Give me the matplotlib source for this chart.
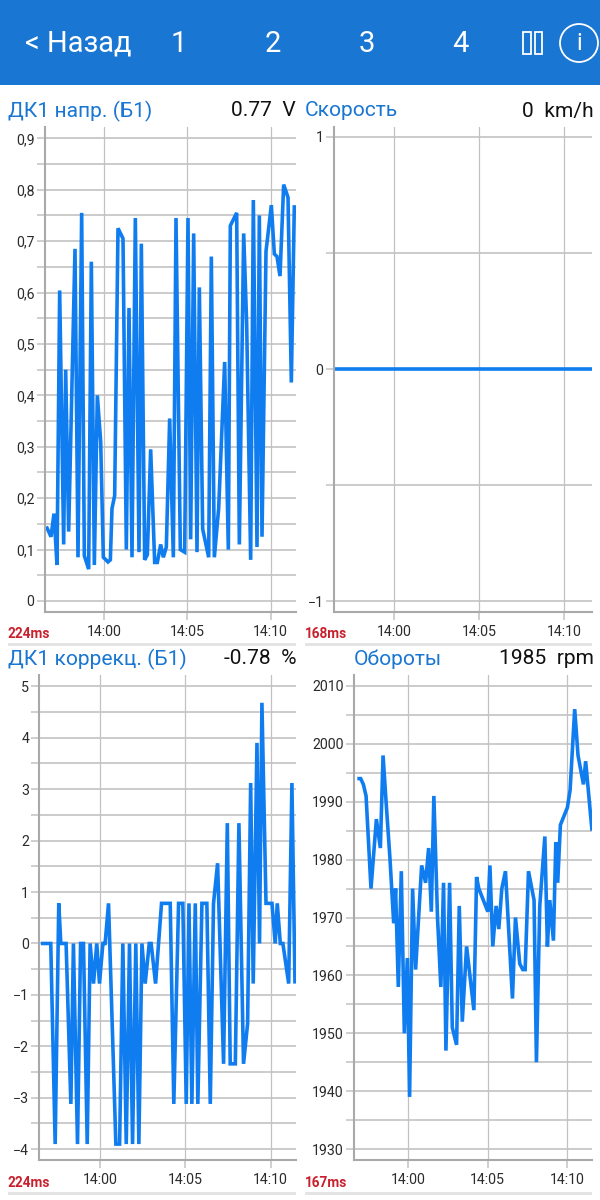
import matplotlib
matplotlib.use("Agg")
import matplotlib.pyplot as plt
from matplotlib.patches import Rectangle, Circle

plt.rcParams['font.family'] = ['Roboto', 'DejaVu Sans']

# Times are minutes relative to 14:00
t_voltage = [-3.46,-3.18,-3.0,-2.82,-2.66,-2.42,-2.30,-2.12,-1.74,-1.56,-1.34,-1.18,-.92,-.76,-.58,-.40,-.20,-.04,.24,.38,.48,.64,.84,1.14,1.34,1.5,1.68,1.88,2.1,2.24,2.44,2.6,2.8,3.04,3.2,3.4,3.56,3.74,3.94,4.16,4.32,4.58,4.84,5.04,5.2,5.38,5.58,5.72,5.92,6.28,6.44,6.62,6.88,7.24,7.46,7.58,7.96,8.12,8.38,8.56,8.8,8.96,9.18,9.32,9.48,9.72,10.04,10.22,10.38,10.56,10.78,11.04,11.24,11.42]
v_voltage = [.145,.125,.17,.07,.604,.11,.45,.135,.685,.085,.755,.088,.062,.66,.07,.40,.31,.085,.076,.08,.18,.205,.725,.705,.10,.57,.085,.745,.095,.695,.08,.09,.295,.075,.075,.11,.085,.105,.355,.085,.745,.10,.095,.745,.12,.715,.095,.61,.14,.085,.67,.085,.18,.465,.10,.73,.755,.11,.715,.54,.08,.78,.105,.75,.125,.68,.77,.675,.67,.632,.81,.785,.425,.77]

t_speed = [-3.5, 0.0, 5.0, 10.0, 11.65]
v_speed = [0, 0, 0, 0, 0]

t_trim = [-3.48,-2.90,-2.64,-2.43,-2.31,-2.00,-1.72,-1.57,-1.33,-1.15,-.98,-.76,-.59,-.39,-.20,-.04,.16,.29,.49,.92,1.14,1.33,1.53,1.72,1.90,2.09,2.27,2.45,2.64,2.88,2.99,3.25,3.60,4.11,4.32,4.60,4.85,5.05,5.21,5.38,5.58,5.73,5.97,6.26,6.46,6.65,6.89,7.24,7.46,7.63,7.93,8.14,8.41,8.65,8.83,8.98,9.20,9.35,9.49,9.73,10.08,10.27,10.39,10.57,10.72,11.06,11.25,11.43]
v_trim = [0,0,-3.9,.78,0,0,-3.12,0,-3.9,0,0,-3.9,0,-.78,0,-.78,0,0,.78,-3.9,-3.9,0,-3.9,0,-3.9,0,-3.9,0,-.78,0,0,-.78,.78,.78,-3.12,.78,.78,-3.12,.78,-3.12,.78,-3.12,.78,.78,-3.12,.78,1.56,-2.34,2.34,-2.34,-2.34,2.34,-2.34,-1.56,3.12,-.78,3.9,0,4.68,.78,.78,0,.78,0,0,-.78,3.12,-.78]

t_rpm = [-3.21,-3.0,-2.83,-2.66,-2.35,-2.01,-1.76,-1.59,-1.40,-1.15,-.92,-.80,-.63,-.44,-.25,-.06,.08,.27,.46,.84,1.09,1.28,1.45,1.61,1.84,2.05,2.22,2.37,2.60,2.77,3.04,3.21,3.40,3.67,4.13,4.30,4.44,5.01,5.14,5.32,5.53,5.70,5.89,6.12,6.56,6.75,7.02,7.21,7.36,7.57,7.92,8.07,8.28,8.60,8.76,8.91,9.14,9.29,9.41,9.58,10.02,10.19,10.48,10.69,11.03,11.17,11.57]
v_rpm = [1994,1994,1993,1991,1975,1987,1982,1998,1990,1980,1969,1975,1958,1978,1950,1963,1939,1975,1961,1979,1976,1982,1971,1991,1970,1958,1976,1947,1976,1951,1948,1972,1952,1965,1954,1977,1975,1971,1979,1965,1972,1968,1975,1978,1956,1970,1962,1961,1961,1978,1973,1945,1972,1984,1965,1973,1966,1983,1976,1986,1989,1992,2006,1998,1993,1997,1985]

x_ticks = [0, 5, 10]
x_labels = ['14:00', '14:05', '14:10']
nav_labels = ['1', '2', '3', '4']
voltage_ticks = [0, .1, .2, .3, .4, .5, .6, .7, .8, .9]
voltage_labels = ['0', '0,1', '0,2', '0,3', '0,4', '0,5', '0,6', '0,7', '0,8', '0,9']

BLUE = '#1976d2'
LINE = '#0f7df0'
GRID = '#c2c2c2'
AXIS = '#a9a9a9'
TXT = '#2b2b2b'
W, H = 600, 1200

fig = plt.figure(figsize=(6, 12), dpi=100, facecolor='white')

bg = fig.add_axes([0, 0, 1, 1])
bg.set_xlim(0, W); bg.set_ylim(H, 0); bg.axis('off')
bg.add_patch(Rectangle((0, 0), W, 85, color=BLUE, lw=0))
bg.text(25, 44, '< Назад', color='white', fontsize=21, va='center', ha='left')
for x, s in zip([179, 273, 367, 460], nav_labels):
    bg.text(x, 44, s, color='white', fontsize=21, va='center', ha='center')
bg.add_patch(Rectangle((523, 32), 8, 22, fill=False, ec='white', lw=1.3))
bg.add_patch(Rectangle((535, 32), 7, 22, fill=False, ec='white', lw=1.3))
bg.add_patch(Circle((579, 43), 19, fill=False, ec='white', lw=1.3))
bg.text(579, 43, 'i', color='white', fontsize=17, va='center', ha='center')
for y in (643, 1192):
    bg.add_patch(Rectangle((8, y), 288, 2.5, color='#e4e4e4', lw=0))
    bg.add_patch(Rectangle((305, y), 287, 2.5, color='#e4e4e4', lw=0))


def panel(box, xlim, ylim, major, minor, t, v):
    l, r, top, bot = box
    ax = fig.add_axes([l / W, 1 - bot / H, (r - l) / W, (bot - top) / H])
    ax.set_xlim(*xlim); ax.set_ylim(*ylim)
    ax.set_facecolor('white')
    ax.set_xticks(x_ticks); ax.set_xticklabels(x_labels)
    ax.set_yticks(major)
    ax.set_yticks(minor, minor=True)
    ax.grid(True, axis='x', color=GRID, lw=0.9)
    ax.grid(True, axis='y', which='both', color=GRID, lw=1.2)
    ax.tick_params(axis='both', which='both', color=GRID, length=5.5, width=1.1,
                   labelsize=10.2, labelcolor=TXT, pad=2)
    ax.tick_params(axis='x', pad=4)
    for s in ('top', 'right'):
        ax.spines[s].set_visible(False)
    for s in ('left', 'bottom'):
        ax.spines[s].set_color(AXIS); ax.spines[s].set_linewidth(1.5)
    ax.set_axisbelow(True)
    ax.plot(t, v, color=LINE, lw=2.6, solid_joinstyle='miter', solid_capstyle='butt', clip_on=True)
    return ax


a1 = panel((45, 296, 127, 612), (-3.54, 11.52), (-0.0214, 0.922),
           voltage_ticks, [.05, .15, .25, .35, .45, .55, .65, .75, .85], t_voltage, v_voltage)
a1.set_yticklabels(voltage_labels)
a2 = panel((334, 592, 127, 612), (-3.53, 11.65), (-1.047, 1.043),
           [-1, 0, 1], [-.5, .5], t_speed, v_speed)
a3 = panel((39.5, 296, 675, 1160), (-3.56, 11.49), (-4.21, 5.22),
           [-4, -3, -2, -1, 0, 1, 2, 3, 4, 5],
           [-3.5, -2.5, -1.5, -.5, .5, 1.5, 2.5, 3.5, 4.5], t_trim, v_trim)
a4 = panel((354, 592, 675, 1160), (-3.42, 11.57), (1928.1, 2011.9),
           [1930, 1940, 1950, 1960, 1970, 1980, 1990, 2000, 2010],
           [1935, 1945, 1955, 1965, 1975, 1985, 1995, 2005], t_rpm, v_rpm)

# Headers
heads = [(8, 296, 111, 'ДК1 напр. (Б1)', '0.77  V'),
         (305, 594, 111, 'Скорость', '0  km/h'),
         (8, 296, 659, 'ДК1 коррекц. (Б1)', '-0.78  %'),
         (354, 594, 659, 'Обороты', '1985  rpm')]
for xl, xr, y, name, val in heads:
    bg.text(xl, y, name, color=BLUE, fontsize=15.1, va='center', ha='left')
    bg.text(xr, y, val, color='#111111', fontsize=15.1, va='center', ha='right')
for x, y, s in [(8, 634, '224ms'), (305, 634, '168ms'), (8, 1183, '224ms'), (305, 1183, '167ms')]:
    bg.text(x, y, s, color='#c8202c', fontsize=9.8, fontweight='bold', va='center', ha='left')

fig.savefig('out.png', dpi=100)
